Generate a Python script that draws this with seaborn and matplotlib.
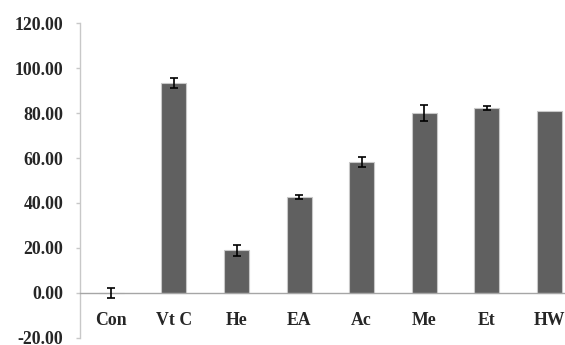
import numpy as np
import pandas as pd
import matplotlib
matplotlib.use("Agg")
import matplotlib.pyplot as plt
import seaborn as sns

# Scavenging activity (%) per extract, with standard deviations
categories = ["Con", "Vt C", "He", "EA", "Ac", "Me", "Et", "HW"]
values = [0.0, 93.5, 19.0, 42.7, 58.4, 80.1, 82.2, 80.9]
errors = [2.1, 2.2, 2.4, 0.9, 2.2, 3.4, 1.0, 0.0]
y_ticks = [-20, 0, 20, 40, 60, 80, 100, 120]

df = pd.DataFrame({"group": categories, "value": values})

sns.set_style("white")
plt.rcParams["font.family"] = ["Liberation Serif", "DejaVu Serif"]

W, H = 565, 345
fig = plt.figure(figsize=(W / 100, H / 100), dpi=100)
# axes run past the right edge so the last category is partly cut off
ax = fig.add_axes([80 / W, 7.3 / H, 500.8 / W, 314.4 / H])

sns.barplot(data=df, x="group", y="value", ax=ax, color="#606060",
            saturation=1, width=0.4, edgecolor="#c8c8c8", linewidth=0.8,
            errorbar=None)
for i, (v, e) in enumerate(zip(values, errors)):
    if e > 0:
        ax.errorbar(i, v, yerr=e, fmt="none", ecolor="black",
                    elinewidth=1.2, capsize=2.9, capthick=1.2, zorder=5)

ax.set_xlim(-0.5, len(categories) - 0.5)
ax.set_ylim(-20, 120)
ax.set_yticks(y_ticks)
ax.set_yticklabels([f"{t:.2f}" for t in y_ticks])

# x axis sits at zero; category labels centred, tick marks between groups
for side in ["top", "right"]:
    ax.spines[side].set_visible(False)
ax.spines["bottom"].set_position(("data", 0))
ax.spines["bottom"].set_color("#a6a6a6")
ax.spines["bottom"].set_linewidth(1.0)
ax.spines["left"].set_color("#c8c8c8")
ax.spines["left"].set_linewidth(1.0)

ax.set_xticks(np.arange(len(categories)))
ax.set_xticklabels(categories)
ax.set_xticks(np.arange(len(categories) - 1) + 0.5, minor=True)
ax.tick_params(axis="x", which="major", length=0, pad=14,
               labelsize=12.8)
ax.tick_params(axis="x", which="minor", length=4, width=1,
               color="#b0b0b0", direction="out")
ax.tick_params(axis="y", length=3, width=1, color="#c8c8c8",
               direction="out", pad=9, labelsize=12.8, left=True)
for lab in ax.get_xticklabels() + ax.get_yticklabels():
    lab.set_fontweight("bold")

ax.set_xlabel("")
ax.set_ylabel("")
ax.grid(False)

fig.savefig("out.png", dpi=100)
